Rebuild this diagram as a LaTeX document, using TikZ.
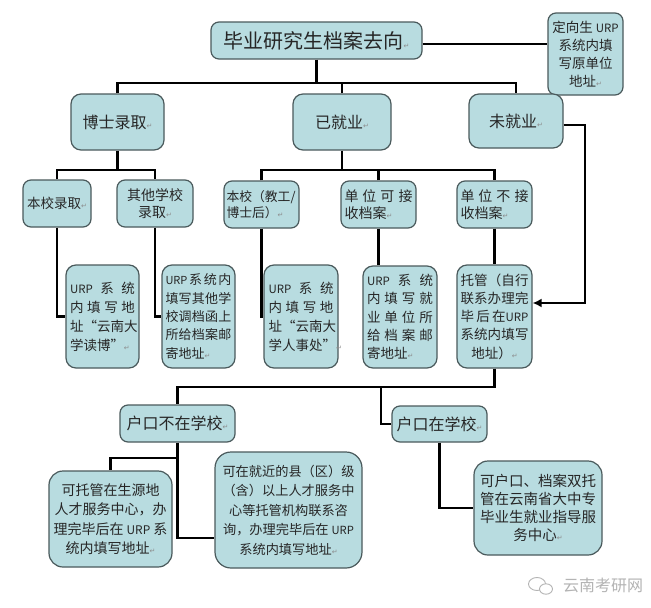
\documentclass[tikz,border=0pt]{standalone}
\usepackage{fontspec}
\usepackage{graphicx}
\setmainfont{Noto Sans CJK SC}
\newfontfamily\djv{DejaVu Sans}
\usetikzlibrary{arrows.meta}
\definecolor{boxfill}{HTML}{B8DCE0}
\definecolor{boxline}{HTML}{4A5A5C}
\definecolor{txt}{HTML}{262626}
\definecolor{wmgray}{HTML}{B4B4B4}
\newcommand\rt{{\djv\fontsize{7}{7}\selectfont\textcolor{black!45}{↵}}}
\newcommand\jl[2]{\makebox[#1pt][l]{#2}}
\newcommand\fs[2]{\fontsize{#1}{#2}\selectfont}
\newcommand\urp{\scalebox{0.85}{URP}}
\tikzset{
  box/.style={draw=boxline, line width=1.2pt, fill=boxfill, rounded corners=8pt,
    inner sep=0pt, align=center, text=txt},
  conn/.style={line width=2.6pt, black},
  arr/.style={conn, -{Latex[length=9pt,width=9pt]}},
}
\begin{document}
\begin{tikzpicture}[x=1pt,y=-1pt]
\fill[white] (0,0) rectangle (651,608);
\useasboundingbox (0,0) rectangle (651,608);

% level 0
\node[box, minimum width=211pt, minimum height=37pt, font=\fs{20}{24}] (title) at (316.5,40.5)
  {毕业研究生档案去向\rt};
\node[box, minimum width=75pt, minimum height=82pt, font=\fs{13.5}{18}] (dxs) at (585.5,54)
  {定向生 \urp\\系统内填\\写原单位\\地址\rt};

% level 1
\node[box, minimum width=93pt, minimum height=56pt, rounded corners=10pt, font=\fs{16}{20}] (bs) at (117.5,122)
  {博士录取\rt};
\node[box, minimum width=98pt, minimum height=56pt, rounded corners=10pt, font=\fs{16}{20}] (yjy) at (342,122)
  {已就业\rt};
\node[box, minimum width=94pt, minimum height=54pt, rounded corners=10pt, font=\fs{16}{20}] (wjy) at (516,121)
  {未就业\rt};

% level 2
\node[box, minimum width=68pt, minimum height=47pt, font=\fs{13.5}{17}] (bxlq) at (57,203.5)
  {本校录取\rt};
\node[box, minimum width=76pt, minimum height=47pt, font=\fs{14}{17}] (qt) at (155,203.5)
  {其他学校\\录取\rt};
\node[box, minimum width=75pt, minimum height=47pt, font=\fs{12.8}{16.5}] (bxjg) at (261.5,204.5)
  {\jl{70}{本校（教工/}\\\jl{70}{博士后）\rt}};
\node[box, minimum width=75pt, minimum height=47pt, font=\fs{14}{17}] (dwk) at (378.5,204.5)
  {\jl{68}{单\hfill 位\hfill 可\hfill 接}\\\jl{68}{收档案\rt}};
\node[box, minimum width=75pt, minimum height=47pt, font=\fs{14}{17}] (dwbk) at (494.5,204.5)
  {\jl{68}{单\hfill 位\hfill 不\hfill 接}\\\jl{68}{收档案\rt}};

% level 3
\node[box, minimum width=73pt, minimum height=103pt, rounded corners=10pt, font=\fs{13.5}{19}] (db) at (102.5,316.5)
  {\jl{65}{\urp\hfill 系\hfill 统}\\\jl{65}{内\hfill 填\hfill 写\hfill 地}\\\jl{65}{址“云\hfill 南\hfill 大}\\\jl{65}{学读博”\rt}};
\node[box, minimum width=73pt, minimum height=103pt, rounded corners=10pt, font=\fs{13}{18.3}] (qtaddr) at (198.5,316.5)
  {\jl{66}{\urp\hfill 系\hfill 统\hfill 内}\\\jl{66}{填\hfill 写\hfill 其\hfill 他\hfill 学}\\\jl{66}{校\hfill 调\hfill 档\hfill 函\hfill 上}\\\jl{66}{所\hfill 给\hfill 档\hfill 案\hfill 邮}\\\jl{66}{寄地址\rt}};
\node[box, minimum width=74pt, minimum height=103pt, rounded corners=10pt, font=\fs{13.5}{19}] (rsc) at (301,316.5)
  {\jl{65}{\urp\hfill 系\hfill 统}\\\jl{65}{内\hfill 填\hfill 写\hfill 地}\\\jl{65}{址“云\hfill 南\hfill 大}\\\jl{65}{学人事处”\rt}};
\node[box, minimum width=74pt, minimum height=102pt, rounded corners=10pt, font=\fs{13.5}{18.3}] (jydw) at (400,317)
  {\jl{66}{\urp\hfill 系\hfill 统}\\\jl{66}{内\hfill 填\hfill 写\hfill 就}\\\jl{66}{业\hfill 单\hfill 位\hfill 所}\\\jl{66}{给\hfill 档\hfill 案\hfill 邮}\\\jl{66}{寄地址\rt}};
\node[box, minimum width=75pt, minimum height=103pt, rounded corners=10pt, font=\fs{13.5}{18.3}] (tg) at (494.5,316.5)
  {\jl{68}{托\hfill 管\hfill （自\hfill 行}\\\jl{68}{联\hfill 系\hfill 办\hfill 理\hfill 完}\\\jl{68}{毕\hfill 后\hfill 在\urp}\\\jl{68}{系\hfill 统\hfill 内\hfill 填\hfill 写}\\地址）\rt};

% level 4
\node[box, minimum width=115pt, minimum height=37pt, font=\fs{16}{20}] (hbz) at (177.5,423.5)
  {户口不在学校\rt};
\node[box, minimum width=95pt, minimum height=36pt, font=\fs{16}{20}] (hz) at (439.5,424)
  {户口在学校\rt};

% level 5
\node[box, minimum width=123pt, minimum height=96pt, rounded corners=14pt, font=\fs{14}{19.5}] (syd) at (110.5,519)
  {可托管在生源地\\人才服务中心，办\\理完毕后在 \urp{} 系\\统内填写地址\rt};
\node[box, minimum width=147pt, minimum height=116pt, rounded corners=16pt, font=\fs{13.2}{19.5}] (xq) at (288.5,510)
  {可在就近的县（区）级\\（含）以上人才服务中\\心等托管机构联系咨\\询，办理完毕后在 \urp\\系统内填写地址\rt};
\node[box, minimum width=128pt, minimum height=94pt, rounded corners=14pt, font=\fs{14.5}{18}] (yn) at (538,508)
  {可户口、档案双托\\管在云南省大中专\\毕业生就业指导服\\务中心\rt};

% helper coordinates
\coordinate (b1) at (0,83);
\coordinate (b2) at (0,170);
\coordinate (b3) at (0,387);
\coordinate (b4) at (0,458);
\coordinate (rr) at (585,0);
\coordinate (j1) at (381,387);
\coordinate (tgin) at ([yshift=13.5pt]tg.east);
\coordinate (wjyout) at ([yshift=-4pt]wjy.east);
\coordinate (titleout) at ([yshift=-3.5pt]title.east);
\coordinate (xqin) at ([yshift=-28pt]xq.west);

% connectors
\draw[conn] (titleout) -- (titleout -| dxs.west);
\draw[conn] (title.south) -- (title.south |- b1);
\draw[conn] (bs.north) |- (wjy.north |- b1) -- (wjy.north);
\draw[conn] (yjy.north) -- (yjy.north |- b1);

\draw[conn] (bs.south) -- (bs.south |- b2);
\draw[conn] (bxlq.north) |- (qt.north |- b2) -- (qt.north);
\draw[conn] (yjy.south) -- (yjy.south |- b2);
\draw[conn] (bxjg.north) |- (dwbk.north |- b2) -- (dwbk.north);
\draw[conn] (dwk.north) -- (dwk.north |- b2);

\draw[conn] (bxlq.south) |- (db.west);
\draw[conn] (qt.south) |- (qtaddr.west);
\draw[conn] (bxjg.south) |- (rsc.west);
\draw[conn] (dwk.south) -- (dwk.south |- jydw.north);
\draw[conn] (dwbk.south) -- (tg.north);

\draw[arr] (wjyout) -| (rr |- tgin) -- (tgin);

\draw[conn] (tg.south) |- (hbz.north |- b3) -- (hbz.north);
\draw[conn] (j1) |- (hz.west);
\draw[conn] (hbz.south) |- (xqin);
\draw[conn] (hbz.south |- b4) -| (syd.north);
\draw[conn] (hz.south) |- (yn.west);

% watermark
\draw[wmgray, line width=0.9pt] (537,584) ellipse [x radius=8.5pt, y radius=6.5pt];
\draw[wmgray, line width=0.9pt, fill=white] (546,589) ellipse [x radius=6.5pt, y radius=5.2pt];
\node[text=wmgray, inner sep=0pt, font=\fs{16}{18}] (wm) at (603,585) {云南考研网};
\end{tikzpicture}
\end{document}
